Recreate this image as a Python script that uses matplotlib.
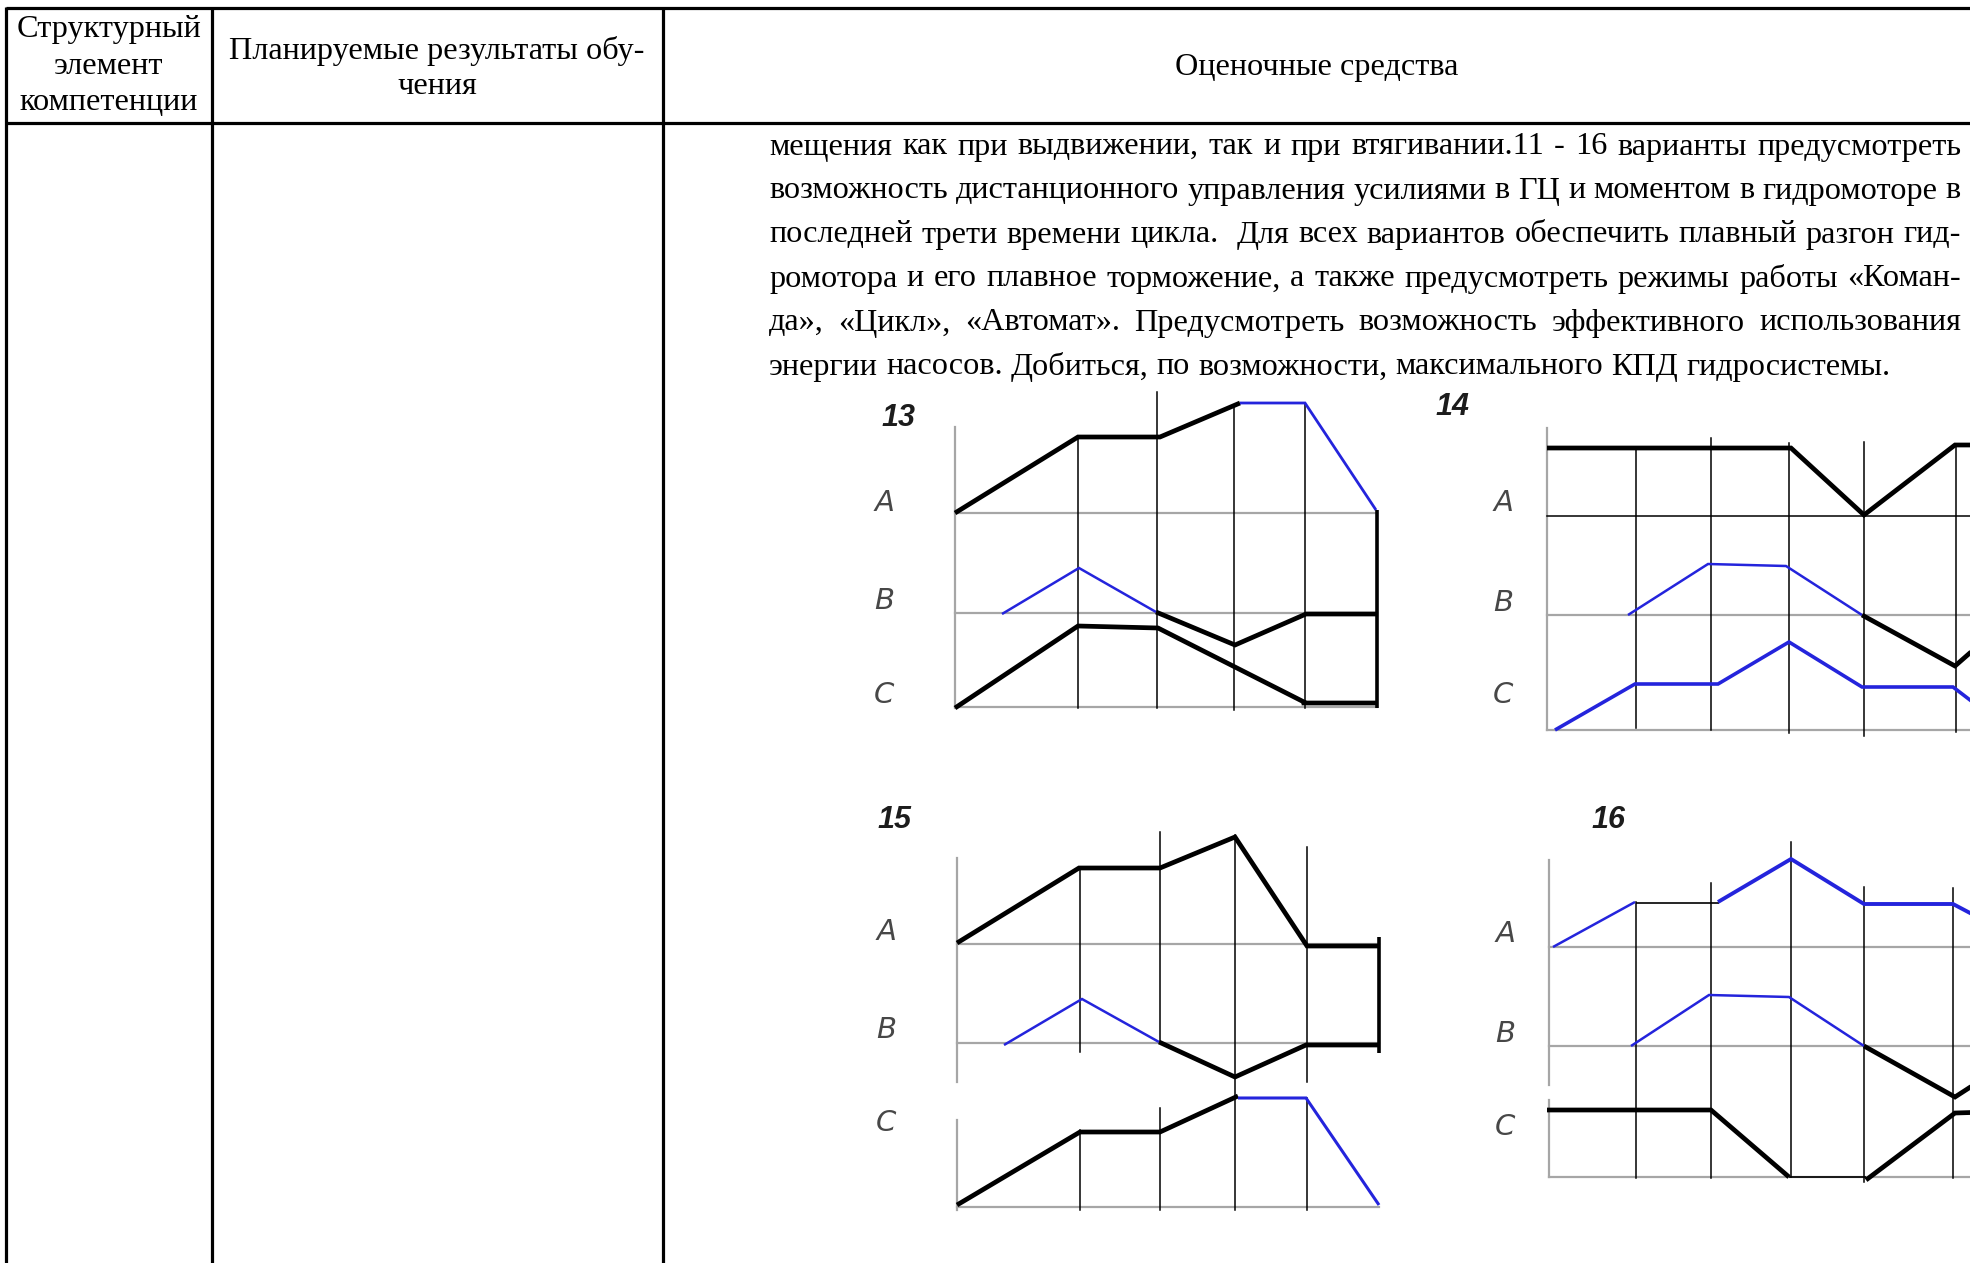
import matplotlib
matplotlib.use("Agg")
import matplotlib.pyplot as plt

W, H = 1970, 1263

# --- table header / body text ---
header_col1 = ["Структурный", "элемент", "компетенции"]
header_col2 = ["Планируемые результаты обу-", "чения"]
header_col3 = ["Оценочные средства"]
body_lines = [
    "мещения как при выдвижении, так и при втягивании.11 - 16 варианты предусмотреть",
    "возможность дистанционного управления усилиями в ГЦ и моментом в гидромоторе в",
    "последней трети времени цикла.  Для всех вариантов обеспечить плавный разгон гид-",
    "ромотора и его плавное торможение, а также предусмотреть режимы работы «Коман-",
    "да», «Цикл», «Автомат». Предусмотреть возможность эффективного использования",
    "энергии насосов. Добиться, по возможности, максимального КПД гидросистемы.",
]

# --- cyclogram data (u = time offset from left axis, v = level above C baseline) ---
# diagram 13
d13_times = [123, 202, 279, 350, 422]
d13_vert = [(-1, 270), (-1, 315), (-3, 302), (-1, 304)]
d13_levels = {"A": 194, "B": 94, "C": 0}
d13_lines = [
    ([0, 123, 205, 285], [194, 270, 270, 304], "k", 3.4),
    ([285, 350, 421], [304, 304, 197], "b", 2.0),
    ([47, 124, 201], [93, 139, 95], "b", 1.8),
    ([201, 280, 351, 422], [95, 62, 93, 93], "k", 3.4),
    ([0, 123, 203, 349, 349, 422], [-1, 81, 79, 5, 4, 4], "k", 3.4),
    ([422, 422], [-1, 197], "k", 2.6),
]
# diagram 14
d14_times = [89, 164, 242, 317, 409]
d14_vert = [(2, 280), (0, 292), (-3, 287), (-6, 288), (-2, 285)]
d14_levels = {"A": 214, "B": 115, "C": 0}
d14_lines = [
    ([0, 244, 317, 408, 445], [282, 282, 215, 285, 285], "k", 3.4),
    ([81, 161, 239, 315], [115, 166, 164, 115], "b", 1.8),
    ([315, 408, 440], [115, 64, 92], "k", 3.4),
    ([8, 88, 171, 242, 315, 406, 440], [0, 46, 46, 88, 43, 43, 17], "b", 2.6),
]
# diagram 15
d15_times = [123, 203, 278, 350, 422]
d15_vert = [(155, 340), (-3, 77), (164, 375), (-3, 99), (-3, 372), (125, 360), (-3, 109)]
d15_vx = [123, 123, 203, 203, 278, 350, 350]
d15_levels = {"A": 263, "B": 164, "C": 0}
d15_lines = [
    ([0, 122, 203, 278, 350, 421], [264, 339, 339, 370, 261, 261], "k", 3.4),
    ([47, 125, 202], [162, 208, 165], "b", 1.8),
    ([202, 278, 349, 421], [165, 130, 162, 162], "k", 3.4),
    ([0, 123, 203, 281], [2, 75, 75, 111], "k", 3.4),
    ([281, 349, 422], [109, 109, 2], "b", 2.2),
    ([422, 422], [154, 270], "k", 2.6),
]
# diagram 16
d16_times = [87, 162, 242, 315, 404]
d16_vert = [(-1, 275), (-1, 294), (0, 335), (-5, 290), (-1, 289)]
d16_levels = {"A": 230, "B": 131, "C": 0}
d16_lines = [
    ([4, 86], [230, 275], "b", 1.8),
    ([87, 170], [274, 274], "k", 1.2),
    ([169, 242, 315, 404, 440], [275, 318, 273, 273, 254], "b", 2.8),
    ([82, 160, 240, 315], [131, 182, 180, 131], "b", 1.8),
    ([315, 406, 440], [131, 80, 102], "k", 3.4),
    ([-2, 162, 240], [67, 67, 0], "k", 3.4),
    ([240, 317], [0, 0], "k", 1.2),
    ([317, 406, 440], [-3, 64, 65], "k", 3.4),
]

# layout of each diagram: origin (left axis x, C baseline y) in pixels, axis spans, labels
diagrams = [
    dict(num="13", x0=955, y0=707, times=d13_times, vert=d13_vert, vx=None,
         levels=d13_levels, lines=d13_lines, axis=[(-1, 280)], base_end=422,
         a_black=False, num_pos=(-56, 289), lab_dx=-71, lab_dy=(10, 12, 12)),
    dict(num="14", x0=1547, y0=730, times=d14_times, vert=d14_vert, vx=None,
         levels=d14_levels, lines=d14_lines, axis=[(0, 302)], base_end=445,
         a_black=True, num_pos=(-94, 323), lab_dx=-44, lab_dy=(13, 12, 35)),
    dict(num="15", x0=957, y0=1207, times=d15_times, vert=d15_vert, vx=d15_vx,
         levels=d15_levels, lines=d15_lines, axis=[(125, 349), (-3, 87)], base_end=422,
         a_black=False, num_pos=(-62, 387), lab_dx=-71, lab_dy=(12, 13, 84)),
    dict(num="16", x0=1549, y0=1177, times=d16_times, vert=d16_vert, vx=None,
         levels=d16_levels, lines=d16_lines, axis=[(92, 317), (0, 77)], base_end=445,
         a_black=False, num_pos=(60, 357), lab_dx=-44, lab_dy=(13, 12, 50)),
]

BLUE = "#2424dc"
GRAY = "#a6a6a6"

fig = plt.figure(figsize=(W / 100, H / 100), dpi=100)
ax = fig.add_axes([0, 0, 1, 1])
ax.set_xlim(0, W)
ax.set_ylim(H, 0)
ax.axis("off")

# table frame
lw_tab = 2.3
ax.plot([6, W + 5], [8, 8], color="k", lw=lw_tab, solid_capstyle="butt")
ax.plot([6, W + 5], [123, 123], color="k", lw=lw_tab, solid_capstyle="butt")
for xc in [6, 212, 663]:
    ax.plot([xc, xc], [7, H + 5], color="k", lw=lw_tab, solid_capstyle="butt")

serif = "Liberation Serif"
fs = 23.2
for i, s in enumerate(header_col1):
    ax.text(109, 29 + i * 37, s, ha="center", va="center", fontsize=fs, family=serif)
for i, s in enumerate(header_col2):
    ax.text(437, 51 + i * 36, s, ha="center", va="center", fontsize=fs, family=serif)
ax.text(1317, 68, header_col3[0], ha="center", va="center", fontsize=fs, family=serif)

# justified body text
fig.canvas.draw()
rend = fig.canvas.get_renderer()


def word_width(w):
    if not w:
        return 0.0
    t = ax.text(0, 0, w, fontsize=fs, family=serif)
    wd = t.get_window_extent(rend).width
    t.remove()
    return wd


x_left, x_right = 769, 1961
space_w = word_width("а б") - word_width("аб")
for i, line in enumerate(body_lines):
    y = 147 + i * 44
    words = line.split(" ")
    widths = [word_width(w) for w in words]
    if i < len(body_lines) - 1:
        gap = (x_right - x_left - sum(widths)) / (len(words) - 1)
    else:
        gap = space_w
    x = x_left
    for w, wd in zip(words, widths):
        if w:
            ax.text(x, y, w, ha="left", va="center", fontsize=fs, family=serif)
        x += wd + gap

# cyclograms
for d in diagrams:
    x0, y0 = d["x0"], d["y0"]
    u0, u1, v0, v1 = -130, 470, -30, 420
    dax = fig.add_axes([(x0 + u0) / W, (H - (y0 - v0)) / H, (u1 - u0) / W, (v1 - v0) / H])
    dax.set_xlim(u0, u1)
    dax.set_ylim(v0, v1)
    dax.axis("off")
    # left axis
    for a0, a1 in d["axis"]:
        dax.plot([0, 0], [a0, a1], color=GRAY, lw=1.6)
    # baselines
    for key in ["A", "B", "C"]:
        col = "k" if (key == "A" and d["a_black"]) else GRAY
        lw = 1.1 if col == "k" else 1.6
        dax.plot([0, d["base_end"]], [d["levels"][key]] * 2, color=col, lw=lw)
    # vertical time marks
    xs = d["vx"] if d["vx"] else d["times"]
    for xv, (b, t) in zip(xs, d["vert"]):
        dax.plot([xv, xv], [b, t], color="k", lw=1.1)
    # signals
    for us, vs, c, lw in d["lines"]:
        dax.plot(us, vs, color=BLUE if c == "b" else "k", lw=lw,
                 solid_joinstyle="miter", solid_capstyle="butt")
    # labels
    dax.text(d["num_pos"][0], d["num_pos"][1], d["num"], ha="center", va="center",
             fontsize=22, family="Liberation Sans", style="italic", weight="bold",
             color="#1c1c1c")
    for key, dy in zip(["A", "B", "C"], d["lab_dy"]):
        dax.text(d["lab_dx"], d["levels"][key] + dy, key, ha="center", va="center",
                 fontsize=21, family="DejaVu Sans", style="italic", color="#474747")

fig.savefig("out.png", dpi=100)
